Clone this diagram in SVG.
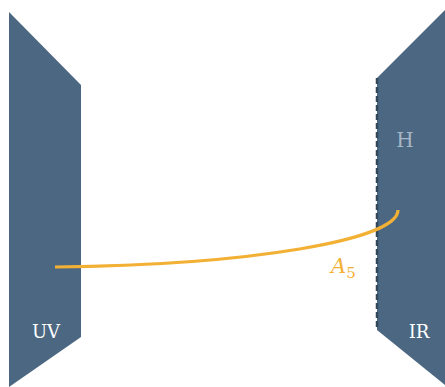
<svg xmlns="http://www.w3.org/2000/svg" width="445" height="387" viewBox="0 0 445 387">
<style>
.panel{fill:#4b6782;}
.dash{fill:none;stroke:#33475b;stroke-width:2.5;stroke-dasharray:6 3;}
.lbl{font-family:"DejaVu Serif","Liberation Serif",serif;fill:#ffffff;font-size:18px;text-anchor:middle;}
.beam{fill:none;stroke:#f2b035;stroke-width:3.2;stroke-linecap:butt;}
</style>
<rect width="445" height="387" fill="#ffffff"/>
<g id="uv-panel">
<polygon class="panel" points="9,12 81,85 81,337 9,387"/>
<text class="lbl" x="46" y="338">UV</text>
</g>
<g id="ir-panel">
<polygon class="panel" points="445,10 377,78 377,330 445,385"/>
<line class="dash" x1="377" y1="78" x2="377" y2="330"/>
<text class="lbl" x="419" y="338">IR</text>
<text class="lbl" x="405" y="147" style="fill:#a8b7c6;font-size:20px">H</text>
</g>
<g id="connectors">
<path class="beam" d="M55,267 C250,265 398,240 398,210"/>
<text x="331" y="273" style="font-family:'DejaVu Serif','Liberation Serif',serif;font-style:italic;font-size:21px;fill:#f2b035">A<tspan dy="5" font-size="15" font-style="normal">5</tspan></text>
</g>
</svg>
